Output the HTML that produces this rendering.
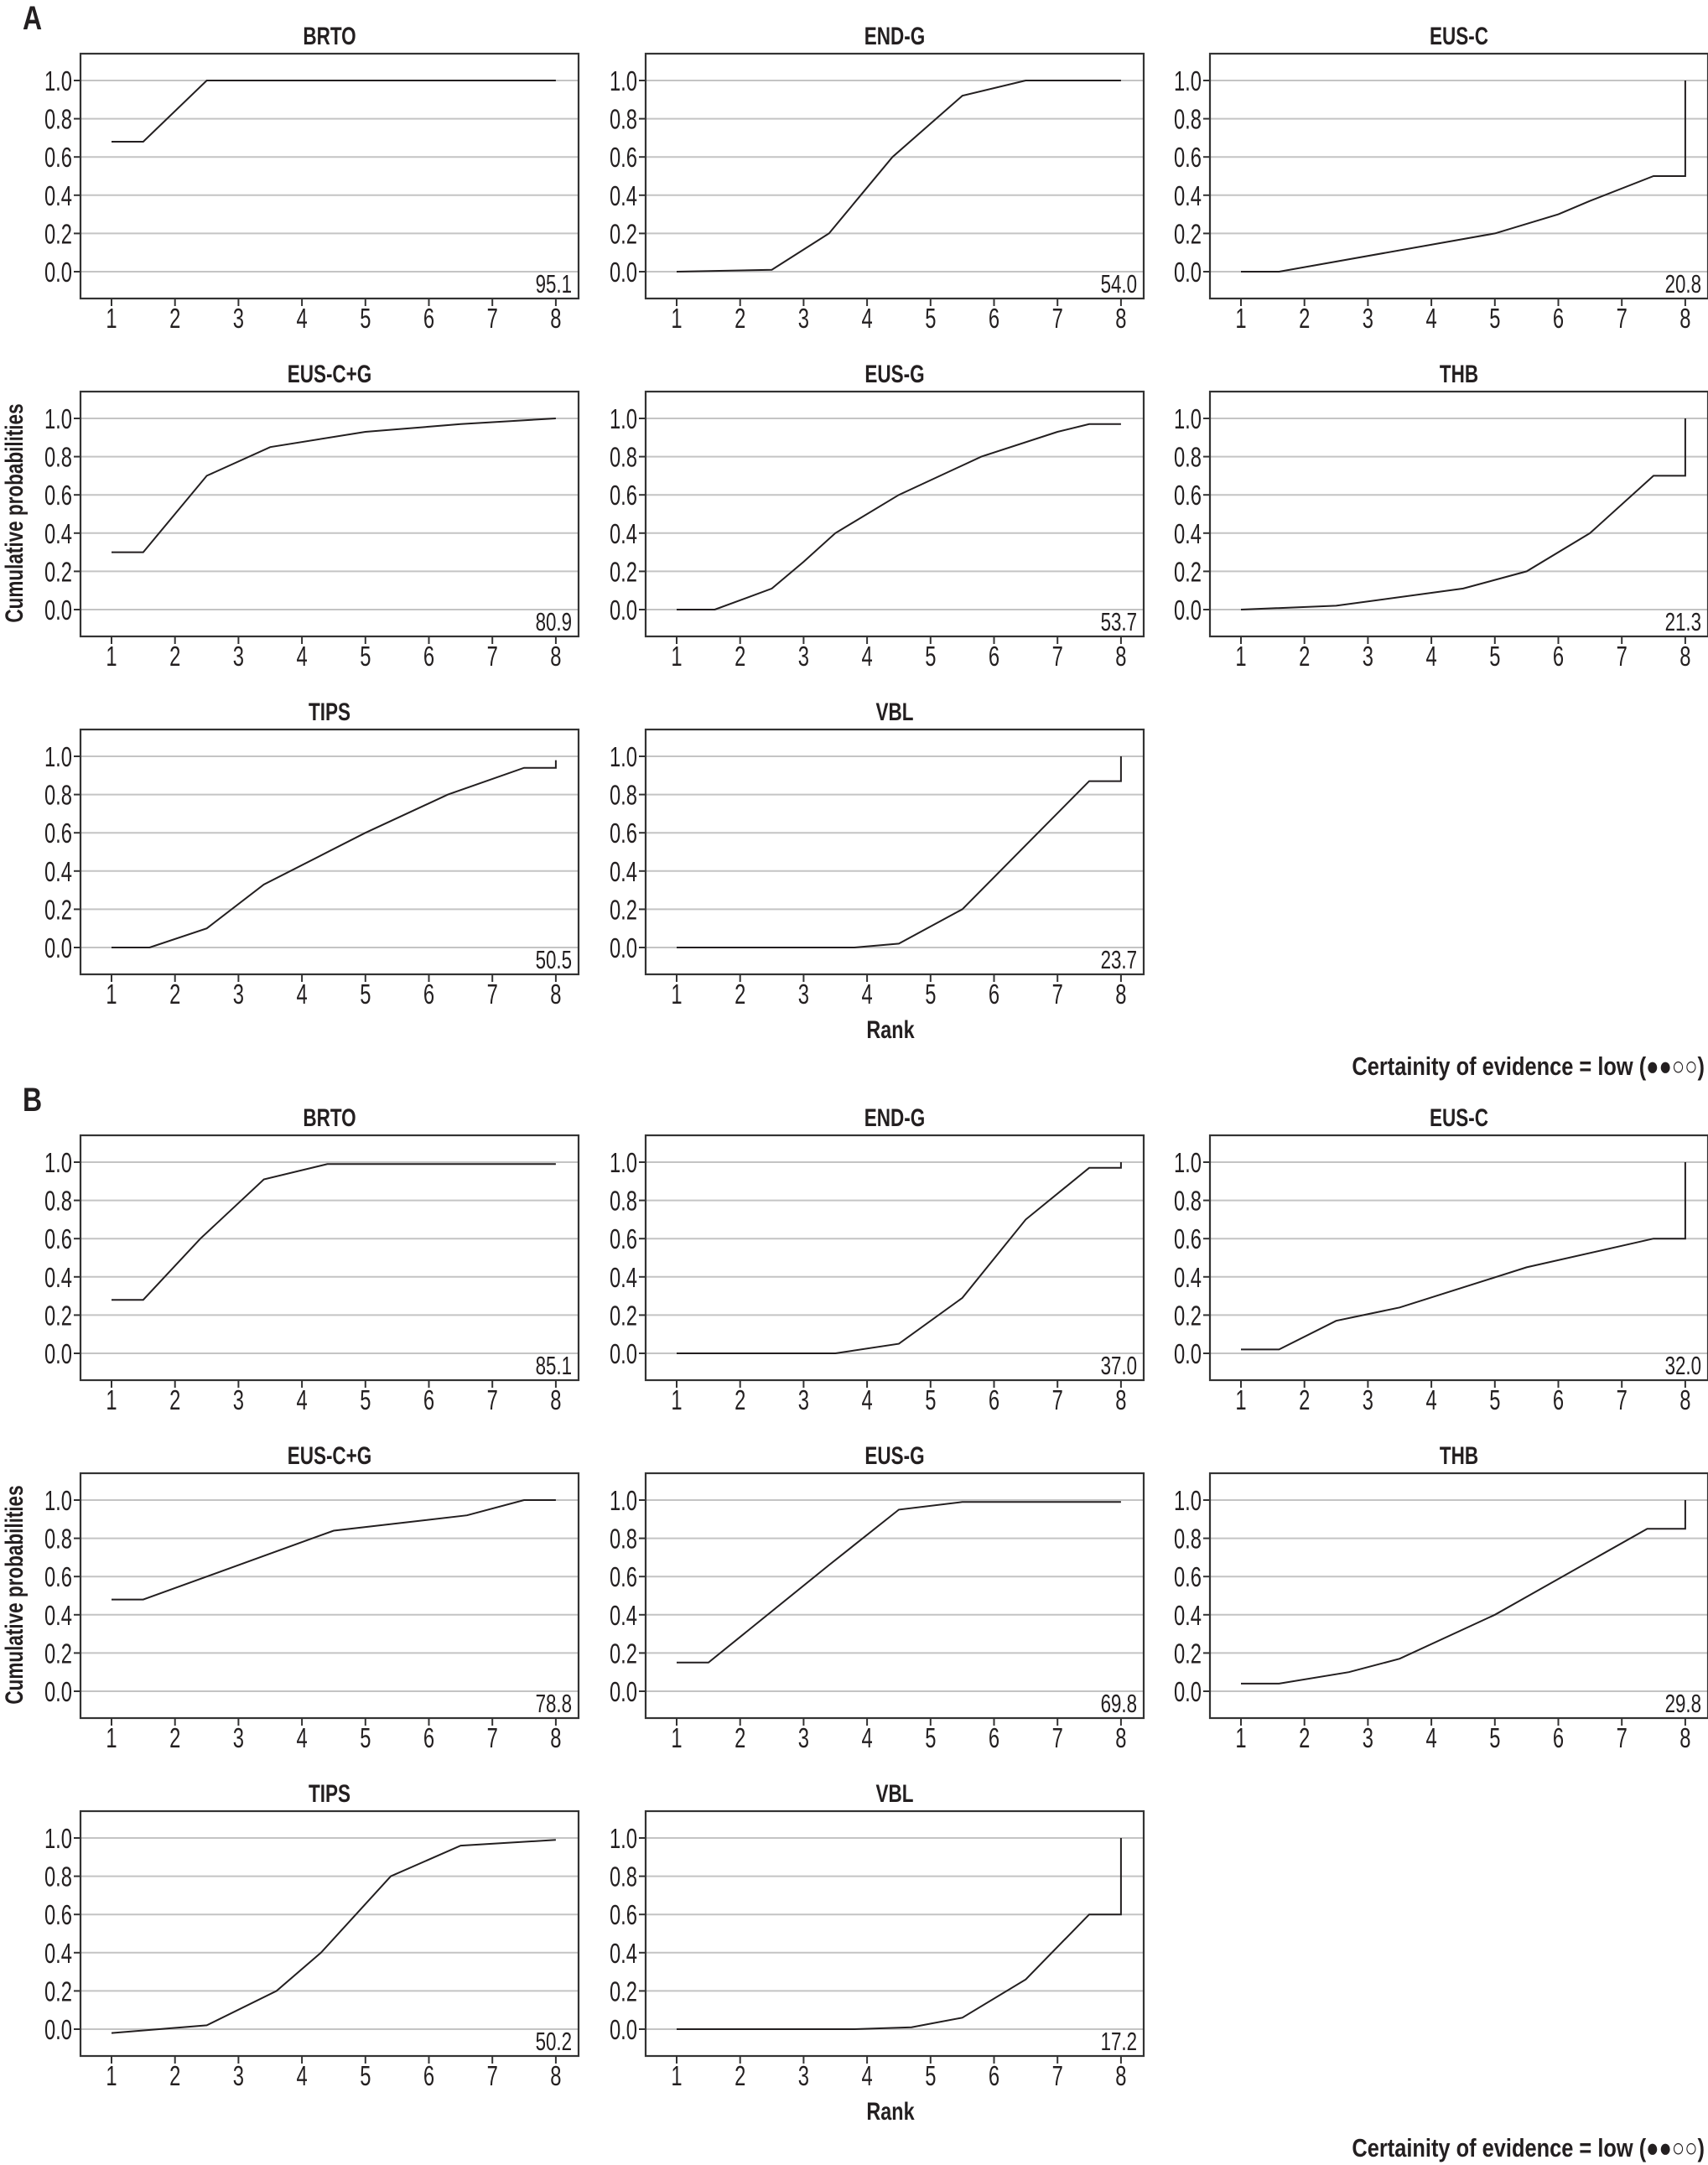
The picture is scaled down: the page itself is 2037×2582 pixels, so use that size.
<!DOCTYPE html>
<html><head><meta charset="utf-8"><style>
html,body{margin:0;padding:0;background:#fff;}
svg{display:block;font-family:"Liberation Sans",sans-serif;}
</style></head><body>
<svg id="chart" width="2037" height="2582" viewBox="0 0 2037 2582" xmlns="http://www.w3.org/2000/svg"></svg>
<script>
// ---- data ----
const panelNames = ["BRTO","END-G","EUS-C","EUS-C+G","EUS-G","THB","TIPS","VBL"];
const sectionLabels = ["A","B"];
const scoresA = ["95.1","54.0","20.8","80.9","53.7","21.3","50.5","23.7"];
const scoresB = ["85.1","37.0","32.0","78.8","69.8","29.8","50.2","17.2"];
const yTicks = [0,0.2,0.4,0.6,0.8,1.0];
const yTickLabels = ["0.0","0.2","0.4","0.6","0.8","1.0"];
const xTicks = [1,2,3,4,5,6,7,8];
// section A curves: rank positions / cumulative probabilities
const A_BRTO_r = [1,1.5,2.5,8];            const A_BRTO_p = [0.68,0.68,1.0,1.0];
const A_ENDG_r = [1,2.5,3.4,3.9,4.4,5.5,6.5,8]; const A_ENDG_p = [0,0.01,0.2,0.4,0.6,0.92,1.0,1.0];
const A_EUSC_r = [1,1.6,5,6,6.5,7.5,8,8];   const A_EUSC_p = [0,0,0.2,0.3,0.37,0.5,0.5,1.0];
const A_EUSCG_r = [1,1.5,2.5,3.5,5,6.5,8];  const A_EUSCG_p = [0.3,0.3,0.7,0.85,0.93,0.97,1.0];
const A_EUSG_r = [1,1.6,2.5,3,3.5,4.5,5.8,7,7.5,8]; const A_EUSG_p = [0,0,0.11,0.25,0.4,0.6,0.8,0.93,0.97,0.97];
const A_THB_r = [1,2.5,4.5,5.5,6.5,7.5,8,8]; const A_THB_p = [0,0.02,0.11,0.2,0.4,0.7,0.7,1.0];
const A_TIPS_r = [1,1.6,2.5,3.4,5,6.3,7.5,8,8]; const A_TIPS_p = [0,0,0.1,0.33,0.6,0.8,0.94,0.94,0.98];
const A_VBL_r = [1,3.8,4.5,5.5,7.5,8,8];    const A_VBL_p = [0,0,0.02,0.2,0.87,0.87,1.0];
// section B curves
const B_BRTO_r = [1,1.5,2.4,3.4,4.4,8];     const B_BRTO_p = [0.28,0.28,0.6,0.91,0.99,0.99];
const B_ENDG_r = [1,3.5,4.5,5.5,6.5,7.5,8,8]; const B_ENDG_p = [0,0,0.05,0.29,0.7,0.97,0.97,1.0];
const B_EUSC_r = [1,1.6,2.5,3.5,5.5,7.5,8,8]; const B_EUSC_p = [0.02,0.02,0.17,0.24,0.45,0.6,0.6,1.0];
const B_EUSCG_r = [1,1.5,4.5,6.6,7.5,8];    const B_EUSCG_p = [0.48,0.48,0.84,0.92,1.0,1.0];
const B_EUSG_r = [1,1.5,3.4,4.5,5.5,8];     const B_EUSG_p = [0.15,0.15,0.66,0.95,0.99,0.99];
const B_THB_r = [1,1.6,2.7,3.5,5,7.4,8,8];  const B_THB_p = [0.04,0.04,0.1,0.17,0.4,0.85,0.85,1.0];
const B_TIPS_r = [1,2.5,3.6,4.3,5.4,6.5,8]; const B_TIPS_p = [-0.02,0.02,0.2,0.4,0.8,0.96,0.99];
const B_VBL_r = [1,3.8,4.7,5.5,6.5,7.5,8,8]; const B_VBL_p = [0,0,0.01,0.06,0.26,0.6,0.6,1.0];

const ranksA = [A_BRTO_r,A_ENDG_r,A_EUSC_r,A_EUSCG_r,A_EUSG_r,A_THB_r,A_TIPS_r,A_VBL_r];
const probsA = [A_BRTO_p,A_ENDG_p,A_EUSC_p,A_EUSCG_p,A_EUSG_p,A_THB_p,A_TIPS_p,A_VBL_p];
const ranksB = [B_BRTO_r,B_ENDG_r,B_EUSC_r,B_EUSCG_r,B_EUSG_r,B_THB_r,B_TIPS_r,B_VBL_r];
const probsB = [B_BRTO_p,B_ENDG_p,B_EUSC_p,B_EUSCG_p,B_EUSG_p,B_THB_p,B_TIPS_p,B_VBL_p];

// ---- layout ----
const svg = document.getElementById('chart');
const NS = 'http://www.w3.org/2000/svg';
const colLeft = [96,770,1443], rowTop = [64,467,870], secOff = [0,1290];
const FW = 594, FH = 292;
function mk(tag, attrs, parent){
  const e = document.createElementNS(NS, tag);
  for (const k in attrs) e.setAttribute(k, attrs[k]);
  (parent||svg).appendChild(e);
  return e;
}
function txt(x,y,s,size,anchor,bold,sx,parent){
  const t = mk('text',{x:0,y:0,'font-size':size,'text-anchor':anchor,'font-weight':bold?'bold':'normal',fill:'#231f20',
    transform:'translate('+x+','+y+') scale('+sx+',1)'},parent);
  t.textContent = s;
  return t;
}
function slug(s){return s.toLowerCase().replace(/\+/g,'-plus-').replace(/[^a-z0-9]+/g,'-').replace(/-+$/,'');}

for (let s=0;s<2;s++){
  const off = secOff[s];
  const ranks = s===0?ranksA:ranksB, probs = s===0?probsA:probsB, scores = s===0?scoresA:scoresB;
  const sl = txt(27, 35+off, sectionLabels[s], 40, 'start', true, 0.8);
  
  
  for (let i=0;i<panelNames.length;i++){
    const left = colLeft[i%3], top = rowTop[Math.floor(i/3)] + off;
    const xs = r => left + 37 + (r-1)*75.7;
    const ys = v => top + 260 - v*228;
    const g = mk('g',{});
    
    
    yTicks.forEach((v,k)=>{
      const gl = mk('line',{x1:left,x2:left+FW,y1:ys(v),y2:ys(v),stroke:'#c4c4c4','stroke-width':2},g);
      
      
      mk('line',{x1:left-8,x2:left,y1:ys(v),y2:ys(v),stroke:'#333','stroke-width':2},g);
      const tl = txt(left-10, ys(v)+12, yTickLabels[k], 33, 'end', false, 0.72, g);
      
      
    });
    xTicks.forEach(r=>{
      mk('line',{x1:xs(r),x2:xs(r),y1:top+FH,y2:top+FH+9,stroke:'#333','stroke-width':2},g);
      const tl = txt(xs(r), top+327, String(r), 33, 'middle', false, 0.72, g);
      
      
    });
    const fr = mk('rect',{x:left,y:top,width:FW,height:FH,fill:'none',stroke:'#333','stroke-width':2.2},g);
    
    
    const pts = ranks[i].map((r,k)=>xs(r).toFixed(1)+','+ys(probs[i][k]).toFixed(1)).join(' ');
    const pl = mk('polyline',{points:pts,fill:'none',stroke:'#231f20','stroke-width':2},g);
    
    
    const tt = txt(left+FW/2, top-11, panelNames[i], 30, 'middle', true, 0.75, g);
    
    
    const sc = txt(left+586, top+285, scores[i], 31, 'end', false, 0.72, g);
    
    
  }
  const yt = mk('text',{x:0,y:0,'font-size':30,'font-weight':'bold','text-anchor':'middle',fill:'#231f20',
    transform:'translate(27,'+(612+off)+') rotate(-90) scale(0.75,1)'});
  yt.textContent = 'Cumulative probabilities';
  
  
  const xt = txt(1062, 1238+off, 'Rank', 30, 'middle', true, 0.78);
  
  
  const ce = txt(2033, 1282+off, 'Certainity of evidence = low (●●○○)', 31, 'end', true, 0.82);
  
  
}
</script>
</body></html>
